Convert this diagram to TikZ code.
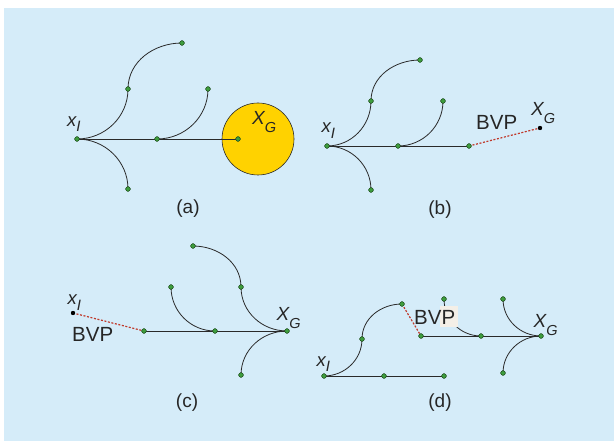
\documentclass[tikz,border=0pt]{standalone}
\usepackage{fontspec}
\setmainfont{Liberation Sans}
\definecolor{bgblue}{HTML}{D5ECF9}
\definecolor{goalyellow}{HTML}{FFD200}
\definecolor{dotgreen}{HTML}{3E9E3E}
\definecolor{dotedge}{HTML}{1F4A1F}
\definecolor{bvpred}{HTML}{C0392B}
\definecolor{edgegray}{HTML}{2A2A2A}
\definecolor{labelbox}{HTML}{F4EFE7}
\newcommand\mysubx{{\fontsize{18.5}{18.5}\selectfont\itshape x}\raisebox{-5.5pt}{\fontsize{15}{15}\selectfont\itshape I}}
\newcommand\mysubX{{\fontsize{19}{19}\selectfont\itshape X}\raisebox{-8pt}{\fontsize{14.5}{14.5}\selectfont\itshape G}}
\tikzset{
  treedot/.style={circle,fill=dotgreen,draw=dotedge,line width=0.4pt,inner sep=0pt,minimum size=4.6pt},
  blackdot/.style={circle,fill=black,inner sep=0pt,minimum size=4.2pt},
  branch/.style={draw=edgegray,line width=0.8pt},
  bvpline/.style={draw=bvpred,line width=1.2pt,dash pattern=on 2pt off 1.6pt},
  lbl/.style={inner sep=0pt,anchor=base west,text=black!85},
  captext/.style={inner sep=0pt,font=\fontsize{19}{19}\selectfont,text=black!85},
  bvptext/.style={inner sep=0pt,anchor=base west,font=\fontsize{20.5}{20.5}\selectfont,text=black!85}
}
\begin{document}
\begin{tikzpicture}[x=1pt,y=-1pt]
\useasboundingbox (0,0) rectangle (614,441);
\fill[white] (0,0) rectangle (614,441);
\fill[bgblue] (4,8) rectangle (614,441);

% ---------------- panel (a)
\fill[goalyellow,draw=edgegray,line width=0.6pt] (258,139) circle (36);
\node[treedot] (a0) at (77,139) {};
\node[treedot] (a1) at (157,139) {};
\node[treedot] (a2) at (128,89) {};
\node[treedot] (a3) at (182,43) {};
\node[treedot] (a4) at (128,189) {};
\node[treedot] (a5) at (208,89) {};
\node[treedot] (aG) at (238,139) {};
\path[branch] (a0.center) -- (aG);
\path[branch] (a0.center) to[out=0,in=-90] (a2.center);
\path[branch] (a2.center) to[out=90,in=180] (a3.center);
\path[branch] (a0.center) to[out=0,in=90] (a4.center);
\path[branch] (a1.center) to[out=0,in=-90] (a5.center);
\foreach \n in {a0,a1,a2,a3,a4,a5,aG} \node[treedot] at (\n) {};
\node[lbl] (axI) at (67,126.5) {\mysubx};
\node[lbl] (axG) at (252,124.5) {\mysubX};
\node[captext] (acap) at (188,209) {(a)};

% ---------------- panel (b)
\node[treedot] (b0) at (327,146) {};
\node[treedot] (b1) at (398,146) {};
\node[treedot] (b2) at (469,146) {};
\node[treedot] (b3) at (371,101) {};
\node[treedot] (b4) at (420,60) {};
\node[treedot] (b5) at (371,190) {};
\node[treedot] (b6) at (443,101) {};
\node[blackdot] (bG) at (540,128) {};
\path[branch] (b0.center) -- (b2.center);
\path[branch] (b0.center) to[out=0,in=-90] (b3.center);
\path[branch] (b3.center) to[out=90,in=180] (b4.center);
\path[branch] (b0.center) to[out=0,in=90] (b5.center);
\path[branch] (b1.center) to[out=0,in=-90] (b6.center);
\path[bvpline] (b2.center) -- (bG.center);
\foreach \n in {b0,b1,b2,b3,b4,b5,b6} \node[treedot] at (\n) {};
\node[blackdot] at (bG) {};
\node[lbl] (bxI) at (321.5,133) {\mysubx};
\node[lbl] (bxG) at (531,116) {\mysubX};
\node[bvptext] (bbvp) at (476,129.5) {BVP};
\node[captext] (bcap) at (440,210) {(b)};

% ---------------- panel (c)
\node[blackdot] (c0) at (73,313) {};
\node[treedot] (c1) at (144,331) {};
\node[treedot] (c2) at (215,331) {};
\node[treedot] (cG) at (287,331) {};
\node[treedot] (c3) at (241,287) {};
\node[treedot] (c4) at (193,246) {};
\node[treedot] (c5) at (241,375) {};
\node[treedot] (c6) at (171,287) {};
\path[branch] (c1.center) -- (cG.center);
\path[branch] (cG.center) to[out=180,in=-90] (c3.center);
\path[branch] (c3.center) to[out=90,in=0] (c4.center);
\path[branch] (cG.center) to[out=180,in=90] (c5.center);
\path[branch] (c2.center) to[out=180,in=-90] (c6.center);
\path[bvpline] (c0.center) -- (c1.center);
\foreach \n in {c1,c2,cG,c3,c4,c5,c6} \node[treedot] at (\n) {};
\node[blackdot] at (c0) {};
\node[lbl] (cxI) at (67.5,305) {\mysubx};
\node[lbl] (cxG) at (276.5,320) {\mysubX};
\node[bvptext] (cbvp) at (72,341.5) {BVP};
\node[captext] (ccap) at (187,403) {(c)};

% ---------------- panel (d)
\node[treedot] (d0) at (324,376) {};
\node[treedot] (d1) at (384,376) {};
\node[treedot] (d2) at (444,376) {};
\node[treedot] (d3) at (362,339) {};
\node[treedot] (d4) at (402,304) {};
\node[treedot] (d5) at (421,336) {};
\node[treedot] (d6) at (481,336) {};
\node[treedot] (dG) at (541,336) {};
\node[treedot] (d7) at (444,299) {};
\node[treedot] (d8) at (503,299) {};
\node[treedot] (d9) at (503,373) {};
\path[branch] (d0.center) -- (d2.center);
\path[branch] (d0.center) to[out=0,in=-90] (d3.center);
\path[branch] (d3.center) to[out=90,in=180] (d4.center);
\path[branch] (d5.center) -- (dG.center);
\path[branch] (d6.center) to[out=180,in=-90] (d7.center);
\path[branch] (dG.center) to[out=180,in=-90] (d8.center);
\path[branch] (dG.center) to[out=180,in=90] (d9.center);
\path[bvpline] (d4.center) -- (d5.center);
\foreach \n in {d0,d1,d2,d3,d4,d5,d6,dG,d7,d8,d9} \node[treedot] at (\n) {};
\fill[labelbox] (440,306) rectangle (458,327);
\node[lbl] (dxI) at (316.5,366) {\mysubx};
\node[lbl] (dxG) at (533.5,327.5) {\mysubX};
\node[bvptext] (dbvp) at (414,324.5) {BVP};
\node[captext] (dcap) at (440,403) {(d)};
\end{tikzpicture}
\end{document}
